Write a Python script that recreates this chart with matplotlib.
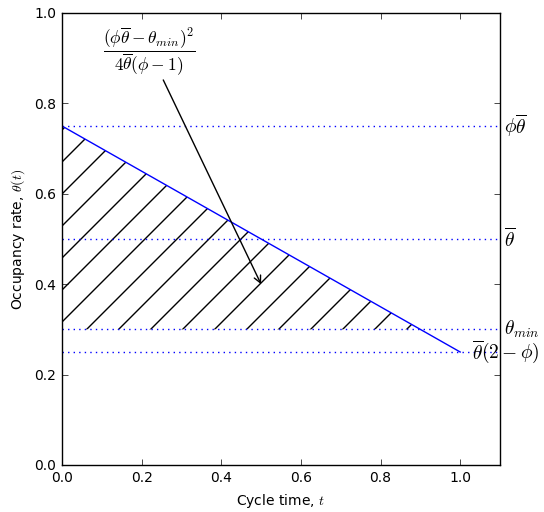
import numpy as np
import matplotlib
matplotlib.use("Agg")
import matplotlib.pyplot as plt

# ---- data ----
t_line = [0.0, 1.0]
theta_line = [0.75, 0.25]
levels = [0.75, 0.5, 0.3, 0.25]
level_labels = [r"$\phi\overline{\theta}$", r"$\overline{\theta}$",
                r"$\theta_{min}$", r"$\overline{\theta}(2-\phi)$"]
label_x = [1.11, 1.11, 1.11, 1.03]
theta_min = 0.3
xticks = [0.0, 0.2, 0.4, 0.6, 0.8, 1.0]
yticks = [0.0, 0.2, 0.4, 0.6, 0.8, 1.0]
annot_text = r"$\dfrac{(\phi\overline{\theta}-\theta_{min})^2}{4\overline{\theta}(\phi-1)}$"
annot_xy = (0.5, 0.4)
annot_xytext = (0.22, 0.915)

DPI = 96
s = 100.0 / DPI  # scale so sizes match a 100-dpi rendering

plt.rcParams.update({
    "font.family": "DejaVu Sans",
    "mathtext.fontset": "cm",
    "font.size": 10 * s,
    "lines.linewidth": 1.0 * s,
    "axes.linewidth": 1.0 * s,
    "hatch.linewidth": 1.0 * s,
    "xtick.direction": "in",
    "ytick.direction": "in",
    "xtick.top": True,
    "ytick.right": True,
    "xtick.major.size": 4 * s,
    "ytick.major.size": 4 * s,
    "xtick.major.width": 0.5 * s,
    "ytick.major.width": 0.5 * s,
    "xtick.major.pad": 4 * s,
    "ytick.major.pad": 4 * s,
    "axes.labelpad": 5 * s,
    "lines.dotted_pattern": [1, 3],
})

fig = plt.figure(figsize=(544 / DPI, 512 / DPI), dpi=DPI)
ax = fig.add_axes([62 / 544, 1 - 465 / 512, (500 - 62) / 544, (465 - 13) / 512])

# hatched region between the line and theta_min
t_end = (theta_line[0] - theta_min) / (theta_line[0] - theta_line[1]) * (t_line[1] - t_line[0])
t_fill = np.linspace(0, t_end, 50)
th_fill = np.interp(t_fill, t_line, theta_line)
ax.fill_between(t_fill, theta_min, th_fill, facecolor="none", edgecolor="k",
                hatch="/", linewidth=0)

for lv in levels:
    ax.axhline(lv, color="b", linestyle=":", linewidth=1.0 * s)

ax.plot(t_line, theta_line, color="b", linewidth=1.0 * s)

for lv, lab, lx in zip(levels, level_labels, label_x):
    ax.text(lx, lv, lab, fontsize=14 * s, ha="left", va="center", clip_on=False)

ax.annotate(annot_text, xy=annot_xy, xytext=annot_xytext, fontsize=12.5 * s,
            ha="center", va="center",
            arrowprops=dict(arrowstyle="->", color="k", lw=1.0 * s,
                            shrinkA=0, shrinkB=0))

ax.set_xlim(0, 1.1)
ax.set_ylim(0, 1.0)
ax.set_xticks(xticks)
ax.set_yticks(yticks)
ax.set_xlabel(r"Cycle time, $t$")
ax.set_ylabel(r"Occupancy rate, $\theta(t)$")

fig.savefig("out.png", dpi=DPI, facecolor="white")
